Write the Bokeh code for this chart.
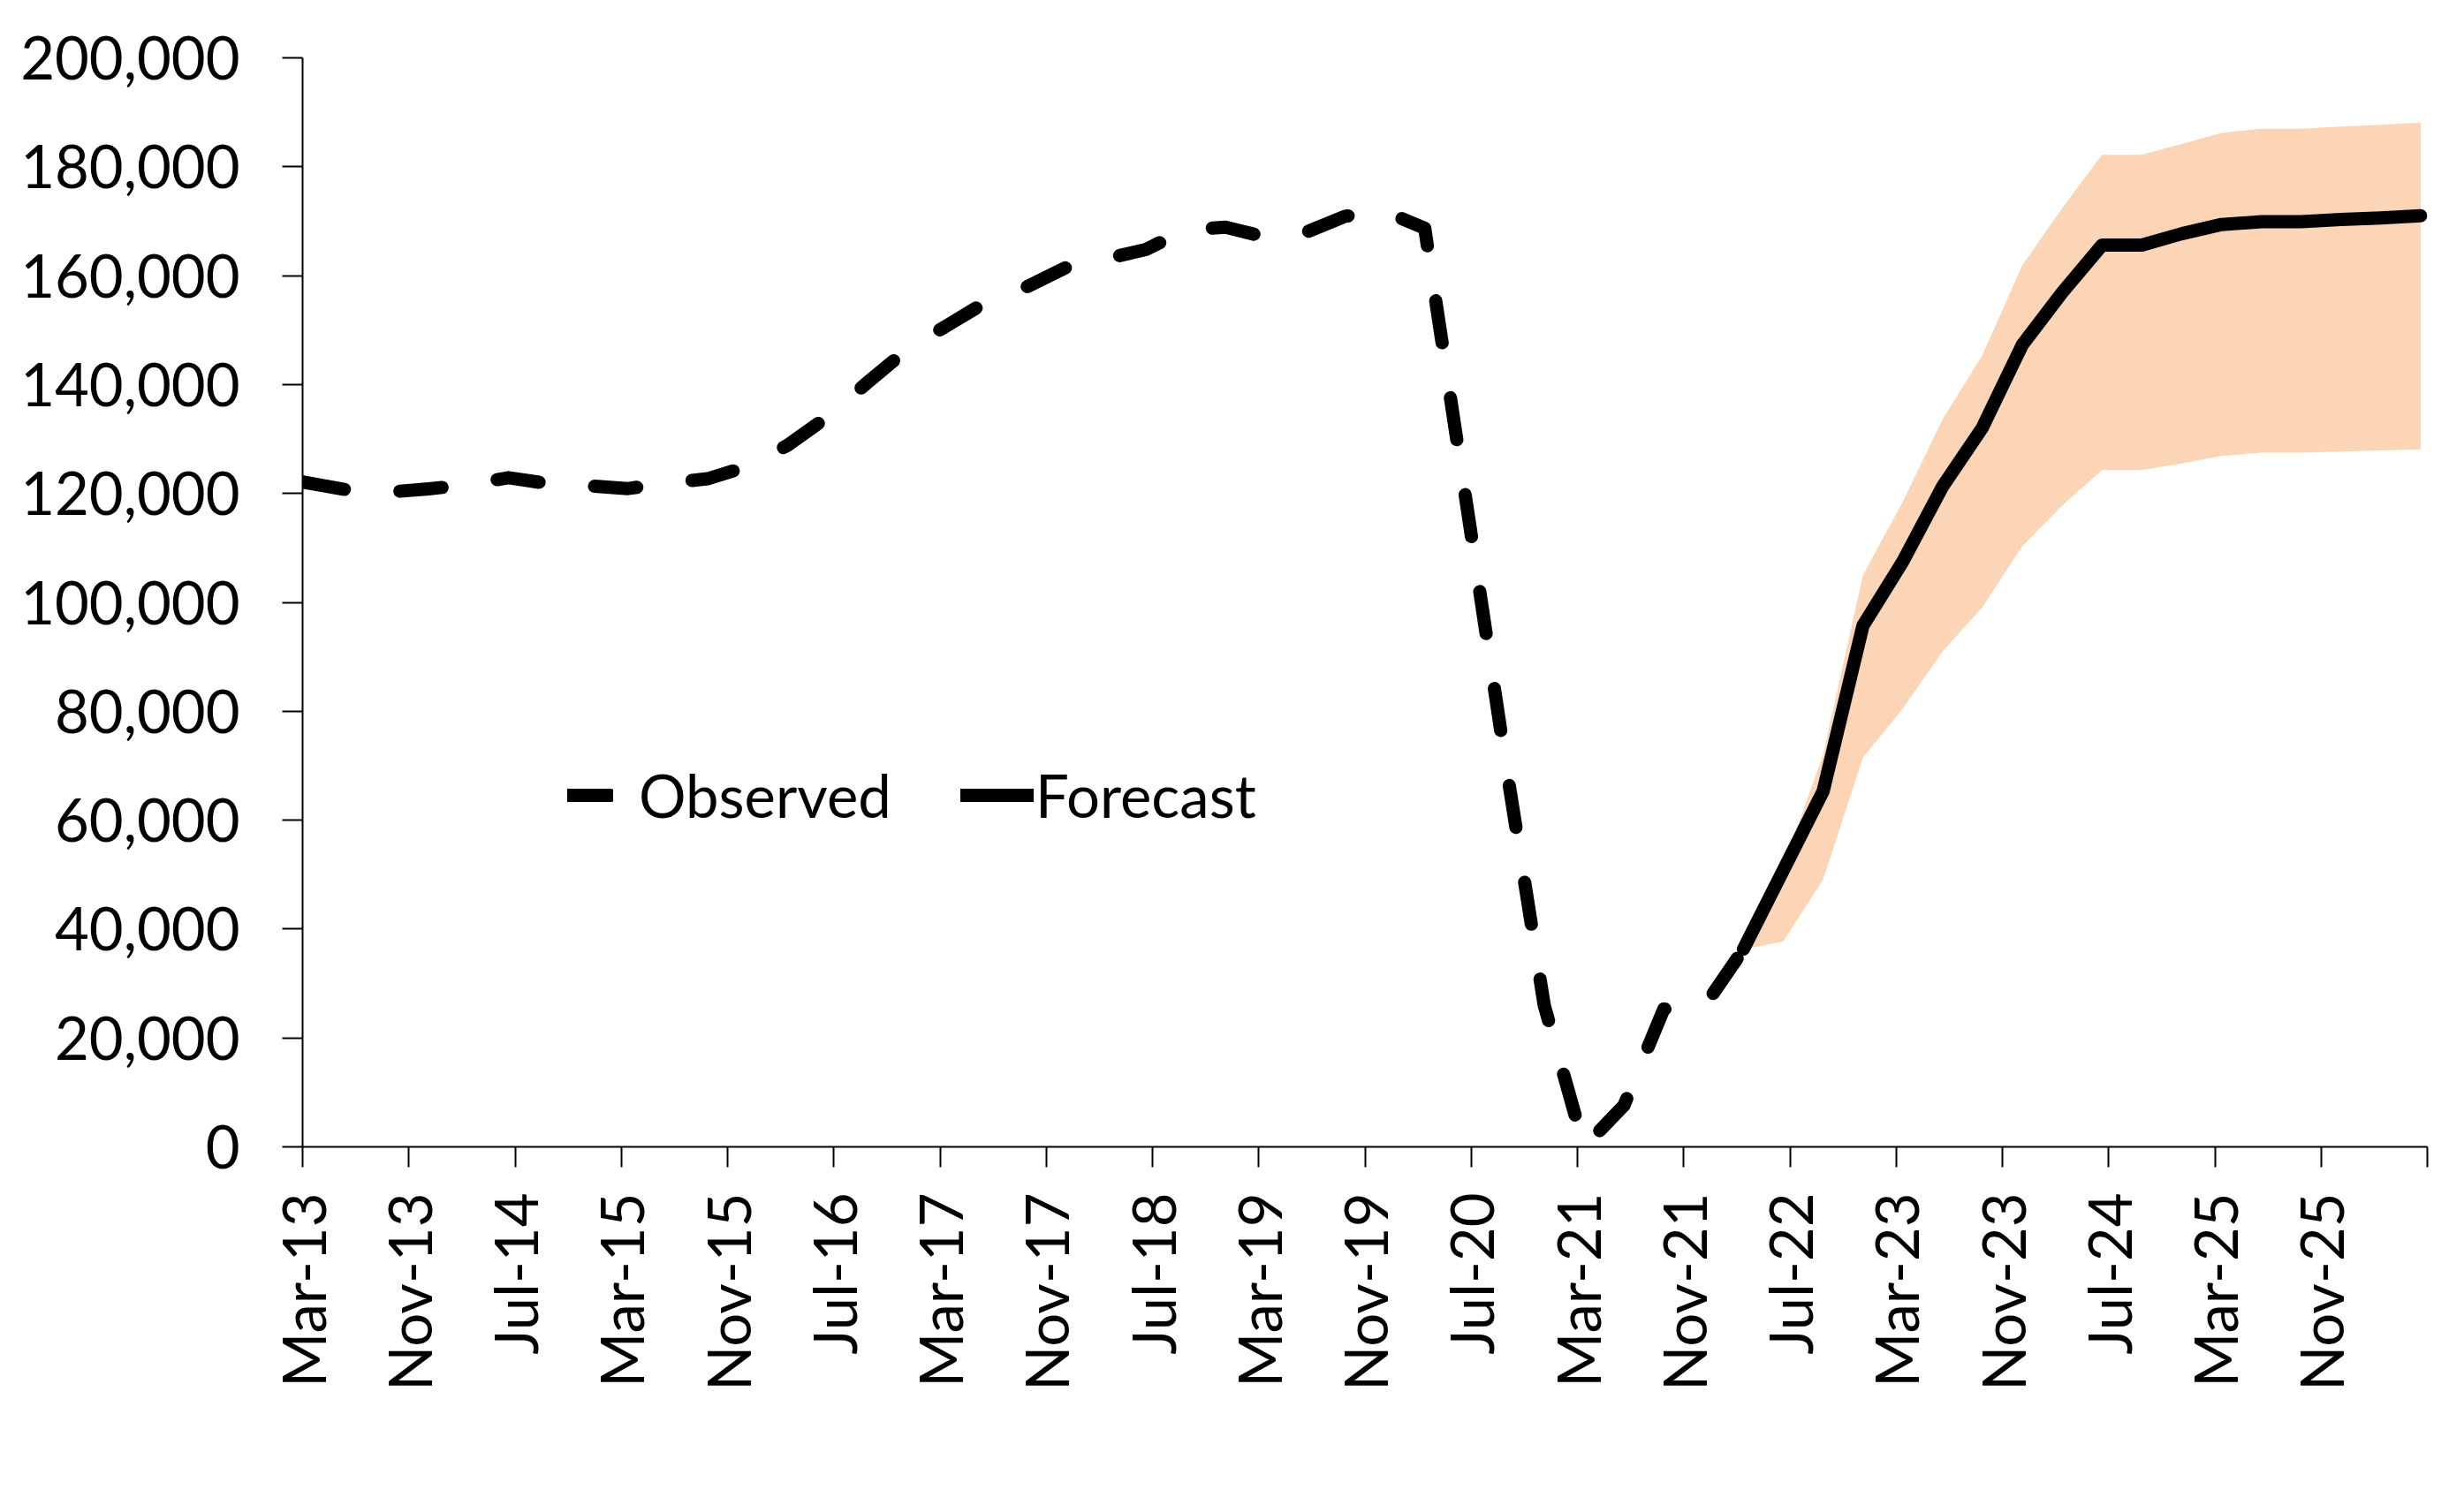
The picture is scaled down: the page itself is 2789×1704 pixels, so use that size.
import numpy as np
from bokeh.plotting import figure
from bokeh.models import (FixedTicker, NumeralTickFormatter, Legend, LegendItem, Range1d)
from bokeh.embed import file_html
from bokeh.resources import INLINE

# ---- data (x = months since Mar-2013) ----
tick_months = [0, 8, 16, 24, 32, 40, 48, 56, 64, 72, 80, 88, 96, 104, 112, 120, 128, 136, 144, 152, 160]
tick_labels = ["Mar-13", "Nov-13", "Jul-14", "Mar-15", "Nov-15", "Jul-16", "Mar-17", "Nov-17",
               "Jul-18", "Mar-19", "Nov-19", "Jul-20", "Mar-21", "Nov-21", "Jul-22", "Mar-23",
               "Nov-23", "Jul-24", "Mar-25", "Nov-25", ""]

observed_month = [0, 3.5, 6.5, 9.5, 12.5, 15.5, 18.5, 21.5, 24.5, 27.5, 30.5, 33.5, 36.5, 39.5,
                  42.5, 45.5, 48.5, 51.5, 54.5, 57.5, 60.5, 63.5, 66.5, 69.5, 72.5, 75.5, 78.5,
                  81.5, 84.5, 87.5, 90.5, 93.5, 96.5, 99.5, 102.5, 105.5, 108.5]
observed_value = [122100, 120600, 120250, 120850, 121600, 122900, 121800, 121400, 120900, 121900,
                  122700, 124950, 128800, 134000, 140300, 146400, 150800, 155200, 157900, 161500,
                  163100, 164800, 168400, 168900, 167100, 167900, 170900, 171800, 168700, 120500,
                  72000, 26000, 0, 7600, 25300, 25600, 36300]

forecast_month = [108.5, 111.5, 114.5, 117.5, 120.5, 123.5, 126.5, 129.5, 132.5, 135.5, 138.5,
                  141.5, 144.5, 147.5, 150.5, 153.5, 156.5, 159.5]
forecast_value = [36300, 50800, 65300, 95700, 107500, 121300, 132100, 147300, 156900, 165600,
                  165600, 167700, 169400, 169900, 169900, 170300, 170600, 171000]
forecast_upper = [36300, 51500, 72000, 105000, 118500, 133600, 145400, 161900, 172400, 182200,
                  182200, 184200, 186200, 187000, 187000, 187400, 187700, 188100]
forecast_lower = [36300, 37700, 49100, 71500, 80500, 91000, 99100, 110300, 117800, 124300,
                  124300, 125500, 126900, 127500, 127500, 127700, 127900, 128100]

FONT = "Lato"
FSIZE = "67px"
BAND = "#FBD5B5"

p = figure(width=2773, height=1688, output_backend="svg", toolbar_location=None,
           x_range=Range1d(0, 160), y_range=Range1d(0, 200000),
           min_border_left=342, min_border_right=26, min_border_top=65, min_border_bottom=390)
p.background_fill_color = "white"
p.border_fill_color = "white"
p.outline_line_color = None
p.xgrid.visible = False
p.ygrid.visible = False

p.varea(x=forecast_month, y1=forecast_lower, y2=forecast_upper, fill_color=BAND, fill_alpha=1.0)
obs = p.line(observed_month, observed_value, line_color="black", line_width=15,
             line_dash="48 63", line_cap="round", line_join="round")
fc = p.line(forecast_month, forecast_value, line_color="black", line_width=15,
            line_cap="round", line_join="round")

for ax in (p.xaxis[0], p.yaxis[0]):
    ax.axis_line_color = "black"
    ax.axis_line_width = 2
    ax.major_tick_line_color = "black"
    ax.major_tick_line_width = 2
    ax.major_tick_in = 0
    ax.major_tick_out = 23
    ax.minor_tick_line_color = None
    ax.major_label_text_font = FONT
    ax.major_label_text_font_size = FSIZE
    ax.major_label_text_color = "black"

p.yaxis[0].ticker = FixedTicker(ticks=list(range(0, 200001, 20000)))
p.yaxis[0].formatter = NumeralTickFormatter(format="0,0")
p.yaxis[0].major_label_standoff = 48

p.xaxis[0].ticker = FixedTicker(ticks=tick_months)
p.xaxis[0].major_label_overrides = {m: lab for m, lab in zip(tick_months, tick_labels)}
p.xaxis[0].major_label_orientation = np.pi / 2
p.xaxis[0].major_label_standoff = 29

def make_legend(label, rend, loc, gw, standoff):
    lg = Legend(items=[LegendItem(label=label, renderers=[rend])], location=loc,
                orientation="horizontal", border_line_color=None, background_fill_alpha=0,
                padding=0, margin=0, spacing=0, glyph_width=gw, glyph_height=60,
                label_height=60, label_standoff=standoff, label_text_font=FONT,
                label_text_font_size=FSIZE, label_text_color="black")
    p.add_layout(lg, "center")

make_legend("Observed", obs, (300, 358), 52, 29)
make_legend("Forecast", fc, (745, 358), 83, 2)

open("out.html", "w").write(file_html(p, INLINE))
